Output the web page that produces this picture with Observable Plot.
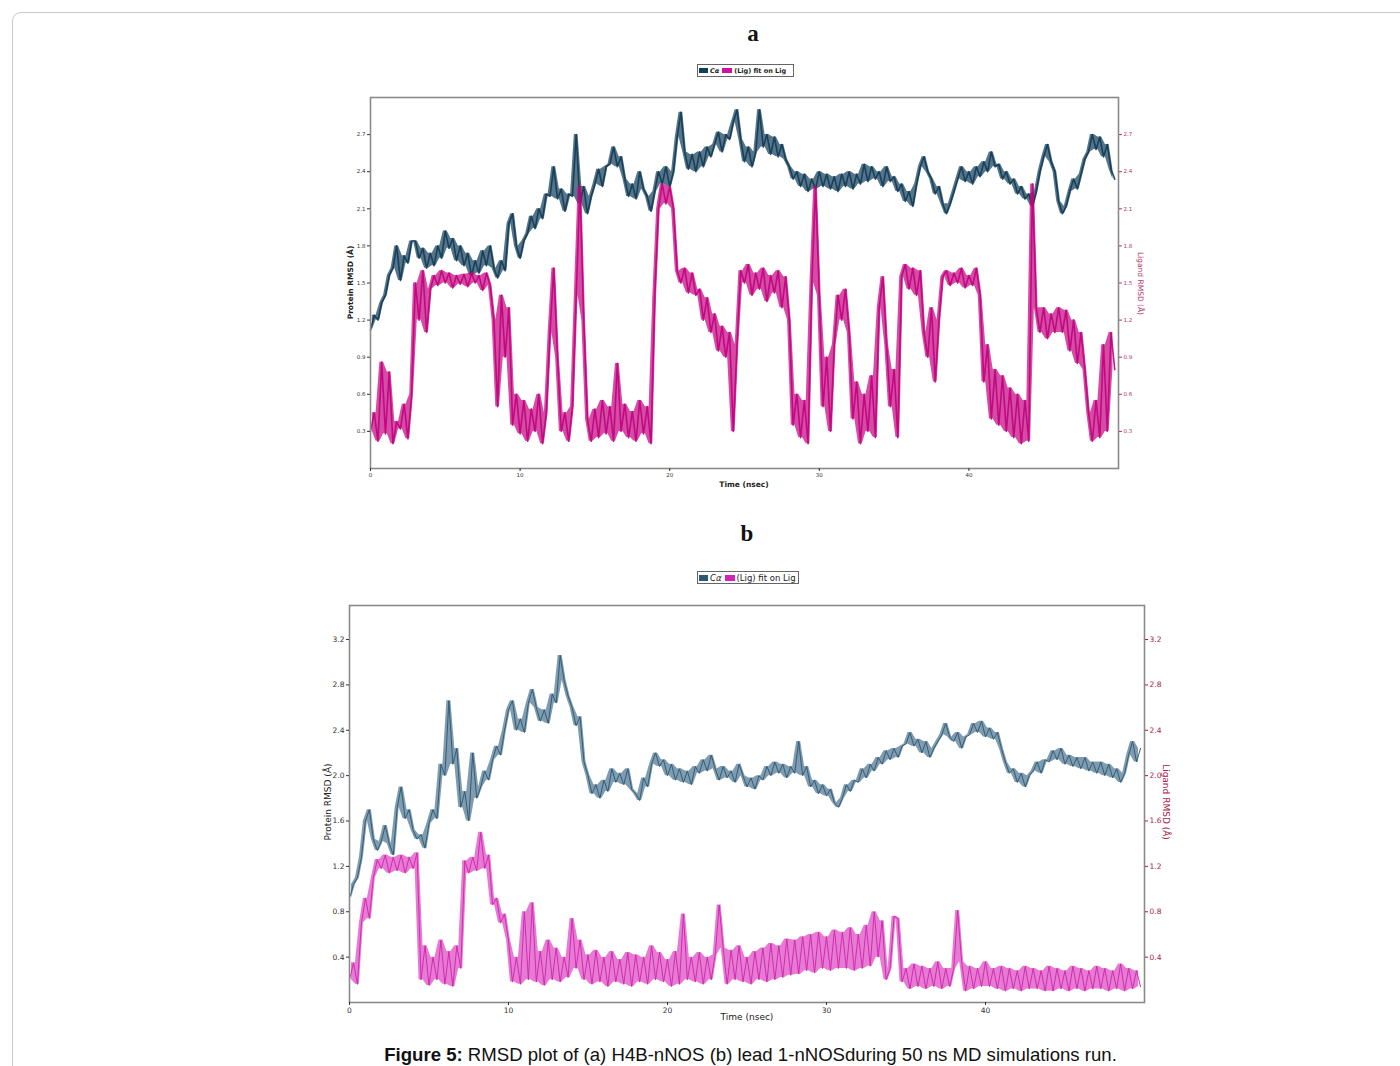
<!DOCTYPE html>
<html><head><meta charset="utf-8">
<script src="https://cdn.jsdelivr.net/npm/d3@7"></script>
<script src="https://cdn.jsdelivr.net/npm/@observablehq/plot@0.6"></script>
<style>
body{margin:0;background:#fff;width:1400px;height:1066px;overflow:hidden;position:relative;font-family:"DejaVu Sans",sans-serif;}
.abs{position:absolute;}
#frame{left:12px;top:12px;width:1420px;height:1100px;border:1px solid #c8c8c8;border-radius:9px;}
.ttl{font-family:"Liberation Serif",serif;font-weight:bold;font-size:23px;color:#111;transform:translateX(-50%);}
.leg{border:1px solid #666;background:#fff;display:flex;align-items:center;white-space:nowrap;color:#222;}
.sw{display:inline-block;}
.rot{transform-origin:center;white-space:nowrap;}
#cap{left:0;width:1501px;text-align:center;top:1044px;font-family:"Liberation Sans",Arial,sans-serif;font-size:18.6px;color:#111;}
</style></head>
<body>
<div id="frame" class="abs"></div>
<div class="abs ttl" style="left:753px;top:21px;">a</div>
<div class="abs ttl" style="left:747px;top:521px;">b</div>

<div class="abs leg" style="left:697px;top:64px;width:95px;height:11px;font-size:6.5px;font-weight:bold;">
 <span class="sw" style="width:9px;height:5px;background:#123f5a;margin:0 2px 0 1px;"></span><span style="font-style:italic">Cα</span>
 <span class="sw" style="width:10px;height:5px;background:#d010a0;margin:0 2px 0 3px;"></span><span>(Lig) fit on Lig</span>
</div>
<div class="abs leg" style="left:697px;top:571px;width:100px;height:11px;font-size:8.5px;">
 <span class="sw" style="width:9px;height:6px;background:#2b5a78;margin:0 2px 0 1px;"></span><span style="font-style:italic">Cα</span>
 <span class="sw" style="width:10px;height:6px;background:#d324b4;margin:0 2px 0 3px;"></span><span>(Lig) fit on Lig</span>
</div>

<div id="pa" class="abs" style="left:330px;top:87px;"></div>
<div id="pb" class="abs" style="left:309px;top:595px;"></div>

<div class="abs rot" style="left:300px;top:278px;width:100px;text-align:center;font-size:7.5px;font-weight:bold;color:#222;transform:rotate(-90deg);">Protein RMSD (Å)</div>
<div class="abs rot" style="left:1090px;top:279px;width:100px;text-align:center;font-size:7.5px;color:#b0306a;transform:rotate(90deg);">Ligand RMSD (Å)</div>
<div class="abs" style="left:694px;top:480px;width:100px;text-align:center;font-size:7.5px;font-weight:bold;color:#222;">Time (nsec)</div>

<div class="abs rot" style="left:268px;top:797px;width:120px;text-align:center;font-size:9px;color:#222;transform:rotate(-90deg);">Protein RMSD (Å)</div>
<div class="abs rot" style="left:1106px;top:797px;width:120px;text-align:center;font-size:9px;color:#a8204c;transform:rotate(90deg);">Ligand RMSD (Å)</div>
<div class="abs" style="left:687px;top:1012px;width:120px;text-align:center;font-size:9px;color:#222;">Time (nsec)</div>

<div id="cap" class="abs"><b>Figure 5:</b> RMSD plot of (a) H4B-nNOS (b) lead 1-nNOSduring 50 ns MD simulations run.</div>

<script>
// sampling step of the read-off series (ns)
const step = 0.25;
// Panel a: H4B-nNOS
const caA = [
1.12,1.24,1.20,1.34, 1.40,1.56,1.62,1.80, 1.52,1.72,1.66,1.84, 1.84,1.70,1.78,1.62,
1.74,1.64,1.80,1.70, 1.92,1.78,1.86,1.68, 1.80,1.64,1.74,1.56, 1.68,1.58,1.76,1.64,
1.80,1.62,1.54,1.68, 1.60,1.98,2.06,1.80, 1.70,1.84,1.90,2.04, 1.94,2.10,2.02,2.22,
2.20,2.44,2.18,2.26, 2.08,2.22,2.20,2.70, 2.14,2.28,2.06,2.20, 2.30,2.42,2.28,2.44,
2.46,2.60,2.44,2.52, 2.34,2.20,2.30,2.18, 2.40,2.26,2.20,2.08, 2.24,2.40,2.30,2.44,
2.28,2.40,2.68,2.88, 2.56,2.42,2.54,2.40, 2.56,2.44,2.60,2.52, 2.62,2.72,2.56,2.70,
2.66,2.80,2.90,2.66, 2.48,2.60,2.44,2.56, 2.90,2.60,2.70,2.54, 2.68,2.52,2.62,2.50,
2.44,2.34,2.40,2.28, 2.38,2.24,2.34,2.26, 2.40,2.28,2.38,2.26, 2.36,2.24,2.38,2.28,
2.40,2.26,2.38,2.30, 2.46,2.32,2.44,2.34, 2.40,2.28,2.44,2.32, 2.36,2.24,2.30,2.16,
2.24,2.12,2.30,2.44, 2.52,2.40,2.34,2.22, 2.28,2.14,2.06,2.14, 2.24,2.34,2.44,2.32,
2.40,2.30,2.44,2.36, 2.48,2.40,2.56,2.44, 2.46,2.34,2.40,2.30, 2.34,2.22,2.28,2.18,
2.22,2.12,2.24,2.40, 2.52,2.62,2.48,2.40, 2.16,2.06,2.12,2.24, 2.34,2.26,2.38,2.50,
2.56,2.70,2.58,2.68, 2.52,2.62,2.42,2.34];
const ligA = [
0.30,0.45,0.22,0.86, 0.28,0.78,0.20,0.38, 0.32,0.52,0.24,0.60, 1.50,1.20,1.60,1.10,
1.45,1.56,1.48,1.60, 1.50,1.58,1.46,1.56, 1.49,1.57,1.47,1.58, 1.50,1.56,1.44,1.58,
1.48,1.20,0.50,1.40, 0.90,1.30,0.35,0.60, 0.28,0.55,0.22,0.48, 0.30,0.60,0.20,0.45,
1.10,1.62,0.90,0.30, 0.45,0.22,0.50,1.40, 2.28,1.20,0.40,0.22, 0.48,0.25,0.55,0.28,
0.50,0.22,0.85,0.30, 0.52,0.25,0.46,0.22, 0.55,0.28,0.50,0.20, 1.40,2.10,2.30,2.14,
2.28,2.10,1.60,1.50, 1.62,1.42,1.58,1.40, 1.45,1.20,1.38,1.10, 1.25,0.95,1.15,0.90,
1.10,0.30,1.00,1.60, 1.50,1.65,1.40,1.58, 1.45,1.62,1.35,1.56, 1.42,1.60,1.30,1.55,
1.20,0.35,0.60,0.25, 0.55,0.20,1.50,2.28, 1.40,0.50,0.90,0.30, 1.00,1.40,1.20,1.45,
1.10,0.40,0.70,0.20, 0.60,0.30,0.75,0.25, 1.30,1.55,1.00,0.50, 0.80,0.25,1.55,1.65,
1.45,1.62,1.40,1.60, 1.10,0.90,1.30,0.70, 1.20,1.55,1.60,1.48, 1.58,1.50,1.62,1.46,
1.56,1.48,1.62,1.40, 0.70,1.00,0.40,0.80, 0.35,0.75,0.30,0.65, 0.25,0.60,0.20,0.55,
0.22,2.30,1.30,1.10, 1.30,1.05,1.25,1.10, 1.30,1.10,1.28,0.95, 1.20,0.85,1.10,0.80,
0.45,0.22,0.55,0.25, 1.00,0.30,1.10,0.80];
// Panel b: lead 1-nNOS
const caB = [
0.92,1.04,1.10,1.28, 1.60,1.70,1.44,1.34, 1.42,1.56,1.40,1.30, 1.72,1.90,1.62,1.70,
1.52,1.44,1.48,1.36, 1.58,1.70,1.62,2.10, 2.00,2.66,2.10,2.24, 1.72,1.86,1.60,2.20,
1.80,1.90,2.04,1.96, 2.14,2.26,2.18,2.40, 2.58,2.66,2.40,2.50, 2.38,2.64,2.76,2.60,
2.48,2.58,2.46,2.72, 2.64,3.06,2.84,2.70, 2.60,2.44,2.52,2.12, 2.00,1.84,1.92,1.80,
1.96,1.86,2.06,1.94, 2.02,1.92,2.06,1.88, 1.84,1.78,1.98,1.90, 2.10,2.20,2.08,2.14,
2.00,2.10,1.96,2.06, 1.94,2.04,1.92,2.08, 2.02,2.14,2.04,2.18, 2.06,1.96,2.08,1.98,
2.04,1.94,2.10,2.00, 1.90,1.98,1.88,2.00, 1.96,2.08,2.00,2.12, 2.02,2.10,1.98,2.08,
2.02,2.30,2.00,2.08, 1.90,1.96,1.84,1.92, 1.82,1.88,1.76,1.72, 1.80,1.92,1.86,1.96,
1.94,2.06,1.98,2.10, 2.04,2.16,2.10,2.22, 2.14,2.24,2.16,2.26, 2.28,2.38,2.26,2.32,
2.20,2.30,2.16,2.24, 2.30,2.36,2.46,2.34, 2.30,2.38,2.24,2.34, 2.36,2.46,2.38,2.48,
2.34,2.42,2.32,2.38, 2.24,2.12,2.02,2.06, 1.94,2.02,1.90,2.00, 2.04,2.12,2.02,2.14,
2.12,2.22,2.14,2.24, 2.10,2.18,2.08,2.16, 2.06,2.16,2.04,2.12, 2.02,2.12,2.00,2.10,
1.98,2.06,1.94,2.02, 2.18,2.30,2.12,2.24];
const ligB = [
0.20,0.35,0.16,0.70, 0.92,0.74,1.10,1.26, 1.18,1.30,1.14,1.28, 1.16,1.30,1.14,1.28,
1.18,1.32,0.20,0.50, 0.15,0.40,0.20,0.55, 0.16,0.45,0.14,0.50, 0.30,1.25,1.14,1.28,
1.16,1.50,1.18,1.30, 0.86,0.92,0.70,0.78, 0.55,0.18,0.40,0.16, 0.80,0.20,0.88,0.18,
0.45,0.15,0.55,0.20, 0.48,0.18,0.40,0.22, 0.74,0.30,0.55,0.20, 0.42,0.16,0.46,0.18,
0.40,0.14,0.45,0.18, 0.38,0.16,0.44,0.14, 0.42,0.18,0.40,0.16, 0.50,0.20,0.44,0.18,
0.38,0.14,0.45,0.16, 0.78,0.20,0.40,0.18, 0.44,0.16,0.40,0.20, 0.42,0.86,0.48,0.16,
0.46,0.20,0.50,0.18, 0.40,0.16,0.45,0.20, 0.48,0.18,0.52,0.20, 0.50,0.22,0.56,0.24,
0.55,0.25,0.58,0.28, 0.60,0.26,0.62,0.30, 0.58,0.28,0.64,0.30, 0.62,0.30,0.66,0.28,
0.60,0.30,0.68,0.32, 0.80,0.40,0.72,0.20, 0.30,0.76,0.74,0.18, 0.30,0.12,0.34,0.14,
0.32,0.12,0.30,0.14, 0.36,0.12,0.30,0.14, 0.30,0.81,0.36,0.10, 0.32,0.12,0.30,0.14,
0.36,0.14,0.30,0.12, 0.32,0.10,0.30,0.12, 0.28,0.10,0.32,0.12, 0.30,0.12,0.28,0.10,
0.32,0.10,0.30,0.12, 0.28,0.10,0.32,0.12, 0.30,0.10,0.28,0.12, 0.32,0.12,0.30,0.10,
0.28,0.12,0.34,0.10, 0.30,0.12,0.28,0.14];
const yTicksA = [0.3,0.6,0.9,1.2,1.5,1.8,2.1,2.4,2.7];
const yTicksB = [0.4,0.8,1.2,1.6,2.0,2.4,2.8,3.2];
const xTicks = [0,10,20,30,40];

const rows = arr => arr.map((v,i)=>({t:i*step, v}));
// envelope of consecutive samples (fills the fluctuation band between read troughs and peaks)
const band = arr => arr.slice(0,-1).map((v,i)=>({t:(i+0.5)*step, lo:Math.min(v,arr[i+1]), hi:Math.max(v,arr[i+1])}));

function panel(cfg){
  return Plot.plot({
    width: cfg.w, height: cfg.h,
    marginLeft: cfg.ml, marginRight: cfg.mr, marginTop: cfg.mt, marginBottom: cfg.mb,
    style:{fontFamily:"DejaVu Sans, sans-serif", background:"#fff"},
    x:{domain:[0,50]}, y:{domain:cfg.yd},
    marks:[
      Plot.areaY(band(cfg.ca), {x:"t", y1:"lo", y2:"hi", fill:cfg.cCa, fillOpacity:cfg.fo}),
      Plot.line(rows(cfg.ca), {x:"t", y:"v", stroke:cfg.cCa, strokeWidth:cfg.sw, strokeOpacity:cfg.op}),
      Plot.areaY(band(cfg.lig), {x:"t", y1:"lo", y2:"hi", fill:cfg.cLig, fillOpacity:cfg.fo}),
      Plot.line(rows(cfg.lig), {x:"t", y:"v", stroke:cfg.cLig, strokeWidth:cfg.sw, strokeOpacity:cfg.op}),
      Plot.frame({stroke:"#8a8a8a", strokeWidth:1.6}),
      Plot.axisY({anchor:"left", ticks:cfg.yt, tickSize:3, tickPadding:2, fontSize:cfg.fs, label:null, tickFormat:d=>d.toFixed(1), color:"#333"}),
      Plot.axisY({anchor:"right", ticks:cfg.yt, tickSize:3, tickPadding:2, fontSize:cfg.fs, label:null, tickFormat:d=>d.toFixed(1), color:cfg.cAx}),
      Plot.axisX({ticks:xTicks, tickSize:3, tickPadding:2, fontSize:cfg.fs, label:null, color:"#333"})
    ]
  });
}
document.getElementById("pa").append(panel({w:843,h:414,ml:40,mr:55,mt:10,mb:33,yd:[0,3],ca:caA,lig:ligA,
  cCa:"#103b56", cLig:"#c2007e", sw:1.6, op:0.9, fo:0.7, yt:yTicksA, fs:5.5, cAx:"#b0306a"}));
document.getElementById("pb").append(panel({w:895,h:437,ml:40,mr:60,mt:10,mb:30,yd:[0,3.5],ca:caB,lig:ligB,
  cCa:"#2b5a78", cLig:"#d324b4", sw:1.0, op:0.95, fo:0.6, yt:yTicksB, fs:7.5, cAx:"#a8204c"}));
</script>
</body></html>
